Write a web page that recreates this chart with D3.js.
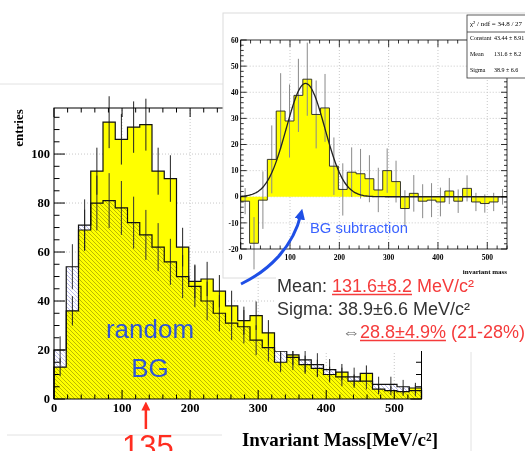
<!DOCTYPE html>
<html lang="en">
<head>
<meta charset="UTF-8">
<title>Invariant mass</title>
<script src="https://cdnjs.cloudflare.com/ajax/libs/d3/7.8.5/d3.min.js"></script>
<style>
  body { margin: 0; background: #fff; }
  svg { display: block; }
</style>
<script>
// bins of 18 MeV/c^2, lower edges
const binLow = [0, 18, 36, 54, 72, 90, 108, 126, 144, 162, 180, 198, 216, 234, 252,
                270, 288, 306, 324, 342, 360, 378, 396, 414, 432, 450, 468, 486, 504, 522];
const binWidth = 18;

// main plot: measured entries and random background
const dataCounts = [13, 36, 69, 93, 113, 106, 111, 112, 93, 90, 62, 48, 49, 44, 38,
                    32, 34, 27, 15, 18, 14, 12.5, 10, 11, 7.3, 10.5, 4, 3.4, 3, 4.5];
const dataErr = [3.6, 6, 8.3, 9.6, 10.6, 10.3, 10.5, 10.6, 9.6, 9.5, 7.9, 6.9, 7, 6.6, 6.2,
                 5.7, 5.8, 5.2, 3.9, 4.2, 3.7, 3.5, 3.2, 3.3, 2.7, 3.2, 2, 1.8, 1.7, 2.1];
const bgCounts = [20, 54, 71, 80, 81, 78, 72, 67, 62, 56, 50, 46, 40, 35, 31,
                  29.5, 24, 21, 19.5, 17, 16, 14, 12, 9, 9, 7.3, 6, 6, 5, 3.4];
const bgErr = [5.6, 9.2, 10.5, 11.2, 11.2, 11, 10.6, 10.2, 9.8, 9.4, 8.8, 8.5, 7.9, 7.4, 7,
               6.8, 6.1, 5.7, 5.5, 5.2, 5, 4.7, 4.3, 3.8, 3.8, 3.4, 3.1, 3.1, 2.8, 2.3];

// inset: after BG subtraction
const subCounts = [-1.7, -17.8, -1.3, 14.3, 32.8, 29, 38.8, 45, 31.5, 34, 11.7, 2.8, 9.4, 8.8, 6.9,
                   2.6, 10, 5.8, -4.5, 1.3, -1.7, -1.3, -2, 2.2, -1.7, 3.2, -2, -2.6, -2, 0];
const subErr = [5, 10, 11, 13, 14.5, 14, 14, 14, 13, 13, 11, 10, 9.5, 9.5, 9,
                8.5, 8.5, 8, 7, 7, 6.5, 6.5, 5.5, 5, 4.5, 5, 3.5, 3.5, 3.5, 3];

// gaus fit shown in the inset
const fitConst = 43.44, fitMean = 131.6, fitSigma = 38.9;

const massTicks = [0, 100, 200, 300, 400, 500];
const entryTicks = [0, 20, 40, 60, 80, 100];
const subTicks = [-20, -10, 0, 10, 20, 30, 40, 50, 60];

window.onload = function() {
    let svg = d3.select('body').append('svg')
        .attr('width', 525)
        .attr('height', 451);

    let defs = svg.append('defs');
    defs.append('pattern')
        .attr('id', 'hatch')
        .attr('patternUnits', 'userSpaceOnUse')
        .attr('width', 4).attr('height', 4)
        .append('path')
        .attr('d', 'M-1,3 l2,2 M0,0 l4,4 M3,-1 l2,2')
        .attr('stroke', '#a4a4e6')
        .attr('stroke-width', 0.75);

    function marker(id, color) {
        defs.append('marker')
            .attr('id', id)
            .attr('viewBox', '0 0 10 10')
            .attr('refX', 5).attr('refY', 5)
            .attr('markerWidth', 3.6).attr('markerHeight', 3.6)
            .attr('orient', 'auto')
            .append('path')
            .attr('d', 'M0,0 L10,5 L0,10 z')
            .attr('fill', color);
    }
    marker('blueHead', '#1f4fe6');
    marker('redHead', '#ff2d20');

    let serif = "'Liberation Serif', 'Times New Roman', serif";
    let sans = "'Liberation Sans', Arial, sans-serif";

    // step outline points for a histogram
    function stepPoints(vals) {
        let end = binLow[binLow.length - 1] + binWidth;
        let pts = [[0, 0]];
        vals.forEach((v, i) => pts.push([binLow[i], v]));
        pts.push([end, vals[vals.length - 1]]);
        pts.push([end, 0]);
        return pts;
    }

    // ROOT-like frame with ticks on all four sides
    function frame(g, x, y, o) {
        let [x0, x1] = x.range();
        let [y0, y1] = y.range();
        g.append('rect')
            .attr('x', x0).attr('y', y1)
            .attr('width', x1 - x0).attr('height', y0 - y1)
            .attr('fill', 'none').attr('stroke', '#000').attr('stroke-width', o.sw);
        d3.range(x.domain()[0], x.domain()[1] + 0.01, o.xMinor).forEach(v => {
            let len = v % o.xMajor === 0 ? o.xLen : o.xLen / 2;
            g.append('line').attr('x1', x(v)).attr('x2', x(v)).attr('y1', y0).attr('y2', y0 - len)
                .attr('stroke', '#000').attr('stroke-width', o.sw);
            g.append('line').attr('x1', x(v)).attr('x2', x(v)).attr('y1', y1).attr('y2', y1 + len)
                .attr('stroke', '#000').attr('stroke-width', o.sw);
        });
        d3.range(y.domain()[0], y.domain()[1] + 0.01, o.yMinor).forEach(v => {
            let len = Math.abs(v % o.yMajor) < 1e-6 ? o.yLen : o.yLen / 2;
            g.append('line').attr('x1', x0).attr('x2', x0 + len).attr('y1', y(v)).attr('y2', y(v))
                .attr('stroke', '#000').attr('stroke-width', o.sw);
            g.append('line').attr('x1', x1).attr('x2', x1 - len).attr('y1', y(v)).attr('y2', y(v))
                .attr('stroke', '#000').attr('stroke-width', o.sw);
        });
    }

    function grid(g, x, y, xs, ys) {
        let [x0, x1] = x.range();
        let [y0, y1] = y.range();
        xs.forEach(v => g.append('line').attr('x1', x(v)).attr('x2', x(v)).attr('y1', y0).attr('y2', y1)
            .attr('stroke', '#c8c8c8').attr('stroke-dasharray', '1,2'));
        ys.forEach(v => g.append('line').attr('x1', x0).attr('x2', x1).attr('y1', y(v)).attr('y2', y(v))
            .attr('stroke', '#c8c8c8').attr('stroke-dasharray', '1,2'));
    }

    function errorBars(g, x, y, vals, errs, color, sw) {
        g.selectAll(null).data(vals).enter().append('line')
            .attr('x1', (d, i) => x(binLow[i] + binWidth / 2))
            .attr('x2', (d, i) => x(binLow[i] + binWidth / 2))
            .attr('y1', (d, i) => y(d - errs[i]))
            .attr('y2', (d, i) => y(d + errs[i]))
            .attr('stroke', color).attr('stroke-width', sw);
    }

    // faint borders of the pasted pictures
    let faint = svg.append('g').attr('stroke', '#e2e2e2').attr('stroke-width', 1);
    faint.append('line').attr('x1', 0).attr('x2', 223).attr('y1', 84).attr('y2', 84);
    faint.append('line').attr('x1', 7).attr('x2', 222).attr('y1', 435).attr('y2', 435);
    faint.append('line').attr('x1', 471).attr('x2', 471).attr('y1', 352).attr('y2', 451);

    //1 main histogram
    let x = d3.scaleLinear().domain([0, 540]).range([54, 421.5]);
    let y = d3.scaleLinear().domain([0, 118.8]).range([399, 108]);
    let main = svg.append('g');
    grid(main, x, y, massTicks.slice(1), entryTicks.slice(1));

    let area = d3.area().x(d => x(d[0])).y0(y(0)).y1(d => y(d[1])).curve(d3.curveStepAfter);
    let line = d3.line().x(d => x(d[0])).y(d => y(d[1])).curve(d3.curveStepAfter);

    main.append('path').attr('d', area(stepPoints(dataCounts))).attr('fill', '#ffff00');
    main.append('path').attr('d', area(stepPoints(bgCounts)))
        .attr('fill', 'url(#hatch)')
        .style('mix-blend-mode', 'multiply');

    errorBars(main, x, y, bgCounts, bgErr, '#333', 1);
    errorBars(main, x, y, dataCounts, dataErr, '#222', 1);
    main.append('path').attr('d', line(stepPoints(bgCounts)))
        .attr('fill', 'none').attr('stroke', '#111').attr('stroke-width', 1.2);
    main.append('path').attr('d', line(stepPoints(dataCounts)))
        .attr('fill', 'none').attr('stroke', '#111').attr('stroke-width', 1.2);

    frame(main, x, y, {sw: 1, xMinor: 20, xMajor: 100, xLen: 9, yMinor: 5, yMajor: 20, yLen: 11});

    main.selectAll('.xl').data(massTicks).enter().append('text')
        .attr('x', d => x(d)).attr('y', 412)
        .attr('text-anchor', 'middle')
        .attr('font-family', serif).attr('font-weight', 'bold').attr('font-size', 12.5)
        .text(d => d);
    main.selectAll('.yl').data(entryTicks).enter().append('text')
        .attr('x', 50).attr('y', d => y(d) + 4)
        .attr('text-anchor', 'end')
        .attr('font-family', serif).attr('font-weight', 'bold').attr('font-size', 12.5)
        .text(d => d);
    main.append('text')
        .attr('transform', 'translate(23,128) rotate(-90)')
        .attr('text-anchor', 'middle')
        .attr('font-family', serif).attr('font-weight', 'bold').attr('font-size', 13)
        .text('entries');

    //2 inset: BG subtracted
    svg.append('rect')
        .attr('x', 223).attr('y', 13).attr('width', 320).attr('height', 265)
        .attr('fill', '#fff').attr('stroke', '#dcdcdc').attr('stroke-width', 1);

    let xi = d3.scaleLinear().domain([0, 540]).range([240.7, 507]);
    let yi = d3.scaleLinear().domain([-20, 60]).range([249, 40]);
    let inset = svg.append('g');
    grid(inset, xi, yi, massTicks.slice(1), subTicks.slice(1, -1));

    let areaI = d3.area().x(d => xi(d[0])).y0(yi(0)).y1(d => yi(d[1])).curve(d3.curveStepAfter);
    let lineI = d3.line().x(d => xi(d[0])).y(d => yi(d[1])).curve(d3.curveStepAfter);
    inset.append('path').attr('d', areaI(stepPoints(subCounts))).attr('fill', '#ffff00');
    errorBars(inset, xi, yi, subCounts, subErr, '#8a8a8a', 1);
    inset.append('path').attr('d', lineI(stepPoints(subCounts)))
        .attr('fill', 'none').attr('stroke', '#222').attr('stroke-width', 0.9);

    // fitted gaussian
    let fitX = d3.range(0, 541, 3);
    let gaus = d3.line()
        .x(d => xi(d))
        .y(d => yi(fitConst * Math.exp(-0.5 * Math.pow((d - fitMean) / fitSigma, 2))))
        .curve(d3.curveBasis);
    inset.append('path').attr('d', gaus(fitX))
        .attr('fill', 'none').attr('stroke', '#222').attr('stroke-width', 1.3);

    frame(inset, xi, yi, {sw: 0.8, xMinor: 20, xMajor: 100, xLen: 7, yMinor: 2, yMajor: 10, yLen: 6});

    inset.selectAll('.xl').data(massTicks).enter().append('text')
        .attr('x', d => xi(d)).attr('y', 259.5)
        .attr('text-anchor', 'middle')
        .attr('font-family', serif).attr('font-weight', 'bold').attr('font-size', 7.5)
        .text(d => d);
    inset.selectAll('.yl').data(subTicks).enter().append('text')
        .attr('x', 238.5).attr('y', d => yi(d) + 2.7)
        .attr('text-anchor', 'end')
        .attr('font-family', serif).attr('font-weight', 'bold').attr('font-size', 7.5)
        .text(d => d);
    inset.append('text')
        .attr('x', 507).attr('y', 274)
        .attr('text-anchor', 'end')
        .attr('font-family', serif).attr('font-weight', 'bold').attr('font-size', 7)
        .text('invariant mass');

    // stats box
    let stats = inset.append('g').attr('font-family', serif).attr('font-size', 6);
    stats.append('rect').attr('x', 467).attr('y', 15).attr('width', 80).attr('height', 63)
        .attr('fill', '#fff').attr('stroke', '#333').attr('stroke-width', 0.8);
    stats.append('line').attr('x1', 467).attr('x2', 547).attr('y1', 32).attr('y2', 32)
        .attr('stroke', '#333').attr('stroke-width', 0.8);
    stats.append('text').attr('x', 470).attr('y', 26).attr('font-size', 7)
        .text('\u03C7\u00B2 / ndf = 34.8 / 27');
    [['Constant', fitConst + ' \u00B1 8.91', 40],
     ['Mean', fitMean + ' \u00B1 8.2', 56],
     ['Sigma', fitSigma + ' \u00B1 6.6', 72]].forEach(r => {
        stats.append('text').attr('x', 470).attr('y', r[2]).text(r[0]);
        stats.append('text').attr('x', 494).attr('y', r[2]).text(r[1]);
    });

    //3 fit results
    svg.append('rect').attr('x', 276).attr('y', 276).attr('width', 249).attr('height', 75).attr('fill', '#fff');
    let red = '#f53b3b';
    let lines = [
        {x: 277, y: 292, segs: [['Mean: ', '#333', false], ['131.6\u00B18.2', red, true], [' MeV/c\u00B2', red, false]]},
        {x: 277, y: 315, segs: [['Sigma: 38.9\u00B16.6 MeV/c\u00B2', '#333', false]]},
        {x: 342, y: 338, segs: [['\u21D4', '#666', false], ['28.8\u00B14.9%', red, true], [' (21-28%)', red, false]]}
    ];
    lines.forEach(l => {
        let cx = l.x;
        l.segs.forEach(s => {
            let t = svg.append('text')
                .attr('x', cx).attr('y', l.y)
                .attr('font-family', sans).attr('font-size', 18)
                .attr('fill', s[1])
                .style('white-space', 'pre')
                .text(s[0]);
            let w = t.node().getComputedTextLength();
            if (s[2]) {
                svg.append('line').attr('x1', cx).attr('x2', cx + w)
                    .attr('y1', l.y + 2.5).attr('y2', l.y + 2.5)
                    .attr('stroke', s[1]).attr('stroke-width', 1.3);
            }
            cx += w;
        });
    });

    //4 annotations
    svg.append('text').attr('x', 150).attr('y', 338).attr('text-anchor', 'middle')
        .attr('font-family', sans).attr('font-size', 26).attr('fill', '#2f55d4').text('random');
    svg.append('text').attr('x', 150).attr('y', 377).attr('text-anchor', 'middle')
        .attr('font-family', sans).attr('font-size', 26).attr('fill', '#2f55d4').text('BG');

    svg.append('path')
        .attr('d', 'M241,284 C268,271 293,248 301,214')
        .attr('fill', 'none').attr('stroke', '#1f4fe6').attr('stroke-width', 3)
        .attr('marker-end', 'url(#blueHead)');
    svg.append('text').attr('x', 310).attr('y', 233)
        .attr('font-family', sans).attr('font-size', 14.8).attr('fill', '#3a62ff')
        .text('BG subtraction');

    svg.append('line').attr('x1', x(135)).attr('x2', x(135)).attr('y1', 429).attr('y2', 406)
        .attr('stroke', '#ff2d20').attr('stroke-width', 2.5)
        .attr('marker-end', 'url(#redHead)');
    // the label runs off the bottom edge, as in the slide
    svg.append('text').attr('x', x(135) + 2).attr('y', 457).attr('text-anchor', 'middle')
        .attr('font-family', sans).attr('font-size', 31).attr('fill', '#ff2d20')
        .text('135');

    svg.append('text').attr('x', 340).attr('y', 446).attr('text-anchor', 'middle')
        .attr('font-family', serif).attr('font-weight', 'bold').attr('font-size', 19)
        .text('Invariant Mass[MeV/c\u00B2]');
};
</script>
</head>
<body>
</body>
</html>
